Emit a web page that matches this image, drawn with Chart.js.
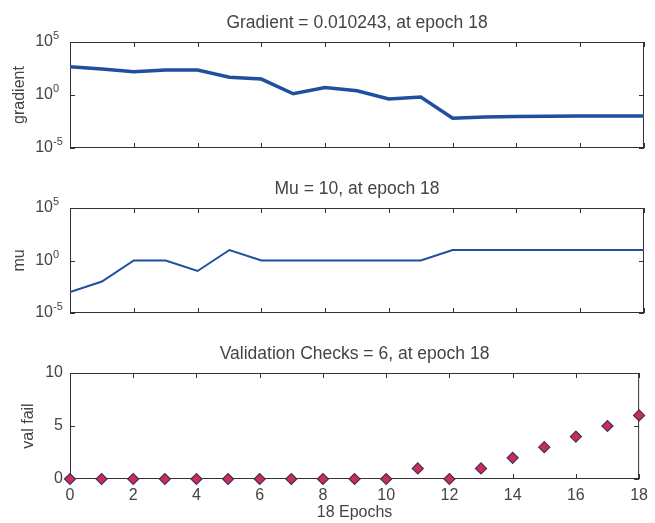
<!DOCTYPE html>
<html lang="en">
<head>
  <meta charset="UTF-8" />
  <title>Training State</title>
  <script src="https://cdn.jsdelivr.net/npm/chart.js"></script>
  <style>
    body {
      margin: 0;
      background: #fff;
      width: 655px;
      height: 523px;
      overflow: hidden;
      position: relative;
    }

    .panel {
      position: absolute;
      left: 0;
      width: 655px;
    }

    #gradPanel { top: 0; height: 165px; }
    #muPanel { top: 165px; height: 165px; }
    #valPanel { top: 330px; height: 193px; }
  </style>
</head>
<body>

  <div class="panel" id="gradPanel"><canvas id="gradChart"></canvas></div>
  <div class="panel" id="muPanel"><canvas id="muChart"></canvas></div>
  <div class="panel" id="valPanel"><canvas id="valChart"></canvas></div>

  <script>
    // values
    const epochs = [0, 1, 2, 3, 4, 5, 6, 7, 8, 9, 10, 11, 12, 13, 14, 15, 16, 17, 18];
    const gradient = [470, 280, 160, 230, 230, 47, 32, 1.3, 5.2, 2.5, 0.42, 0.63, 0.0065, 0.0085, 0.0095, 0.0101, 0.0102, 0.0102, 0.010243];
    const mu = [0.001, 0.01, 1, 1, 0.1, 10, 1, 1, 1, 1, 1, 1, 10, 10, 10, 10, 10, 10, 10];
    const valFail = [0, 0, 0, 0, 0, 0, 0, 0, 0, 0, 0, 1, 0, 1, 2, 3, 4, 5, 6];

    const epochTicks = [0, 2, 4, 6, 8, 10, 12, 14, 16, 18];
    const logTicks = [1e-5, 1, 1e5];
    const valTicks = [0, 5, 10];

    const gradTitle = "Gradient = 0.010243, at epoch 18";
    const muTitle = "Mu = 10, at epoch 18";
    const valTitle = "Validation Checks = 6, at epoch 18";

    const textColor = "#444";
    const fontFamily = "'Liberation Sans', Arial, sans-serif";
    const lineBlue = "#1f4f9f";

    // box, inward ticks, title and 10^n labels, the way MATLAB draws its axes
    const matlabFrame = {
      id: "matlabFrame",
      beforeDatasetsDraw(chart, args, opts) {
        const { ctx, chartArea: a, scales: { x, y } } = chart;
        ctx.save();
        ctx.strokeStyle = "#333";
        ctx.lineWidth = 1;
        ctx.strokeRect(a.left + 0.5, a.top + 0.5, a.width - 1, a.height - 1);
        ctx.beginPath();
        epochTicks.forEach(v => {
          const px = Math.round(x.getPixelForValue(v)) + 0.5;
          ctx.moveTo(px, a.top);
          ctx.lineTo(px, a.top + 5);
          ctx.moveTo(px, a.bottom);
          ctx.lineTo(px, a.bottom - 5);
        });
        opts.yTicks.forEach(v => {
          const py = Math.round(y.getPixelForValue(v)) + 0.5;
          ctx.moveTo(a.left, py);
          ctx.lineTo(a.left + 5, py);
          ctx.moveTo(a.right, py);
          ctx.lineTo(a.right - 5, py);
        });
        ctx.stroke();

        ctx.fillStyle = textColor;
        ctx.font = "17.5px " + fontFamily;
        ctx.textAlign = "center";
        ctx.textBaseline = "middle";
        ctx.fillText(opts.title, (a.left + a.right) / 2, a.top - 19);

        if (opts.log) {
          opts.yTicks.forEach(v => {
            const py = y.getPixelForValue(v);
            ctx.font = "16px " + fontFamily;
            ctx.textAlign = "right";
            ctx.textBaseline = "middle";
            ctx.fillText("10", a.left - 17, py);
            ctx.font = "11px " + fontFamily;
            ctx.textAlign = "left";
            ctx.fillText(String(Math.round(Math.log10(v))), a.left - 17, py - 6);
          });
        }
        ctx.restore();
      }
    };

    function makeOptions(cfg) {
      return {
        responsive: true,
        maintainAspectRatio: false,
        animation: false,
        layout: { padding: { left: 0, right: 11, top: cfg.top, bottom: cfg.bottom } },
        plugins: {
          legend: { display: false },
          tooltip: { enabled: false },
          matlabFrame: { title: cfg.title, yTicks: cfg.yTicks, log: cfg.log }
        },
        scales: {
          x: {
            type: "linear",
            min: 0,
            max: 18,
            display: cfg.showX,
            afterBuildTicks: s => { s.ticks = epochTicks.map(v => ({ value: v })); },
            afterFit: s => { s.height = cfg.showX ? 44 : 0; },
            grid: { display: false, drawTicks: false },
            border: { display: false },
            ticks: {
              padding: 7,
              color: textColor,
              font: { family: fontFamily, size: 16 }
            },
            title: {
              display: cfg.showX,
              text: "18 Epochs",
              color: textColor,
              font: { family: fontFamily, size: 16 },
              padding: { top: 0, bottom: 1 }
            }
          },
          y: {
            type: cfg.log ? "logarithmic" : "linear",
            min: cfg.yTicks[0],
            max: cfg.yTicks[cfg.yTicks.length - 1],
            afterBuildTicks: s => { s.ticks = cfg.yTicks.map(v => ({ value: v })); },
            afterFit: s => { s.width = 70; },
            grid: { display: false, drawTicks: false },
            border: { display: false },
            ticks: {
              padding: 7,
              color: textColor,
              font: { family: fontFamily, size: 16 },
              // log labels are drawn by matlabFrame with a raised exponent
              callback: v => cfg.log ? "" : String(v)
            },
            title: {
              display: true,
              text: cfg.yLabel,
              color: textColor,
              font: { family: fontFamily, size: 16 },
              padding: { top: cfg.log ? 10 : 19, bottom: 0 }
            }
          }
        }
      };
    }

    new Chart(document.getElementById("gradChart"), {
      type: "line",
      data: {
        datasets: [{
          data: epochs.map((e, i) => ({ x: e, y: gradient[i] })),
          borderColor: lineBlue,
          borderWidth: 3.5,
          pointRadius: 0,
          tension: 0
        }]
      },
      options: makeOptions({ title: gradTitle, yLabel: "gradient", log: true, yTicks: logTicks, top: 42, bottom: 17, showX: false }),
      plugins: [matlabFrame]
    });

    new Chart(document.getElementById("muChart"), {
      type: "line",
      data: {
        datasets: [{
          data: epochs.map((e, i) => ({ x: e, y: mu[i] })),
          borderColor: lineBlue,
          borderWidth: 2,
          pointRadius: 0,
          tension: 0
        }]
      },
      options: makeOptions({ title: muTitle, yLabel: "mu", log: true, yTicks: logTicks, top: 43, bottom: 17, showX: false }),
      plugins: [matlabFrame]
    });

    new Chart(document.getElementById("valChart"), {
      type: "line",
      data: {
        datasets: [{
          data: epochs.map((e, i) => ({ x: e, y: valFail[i] })),
          showLine: false,
          clip: false,
          pointStyle: "rectRot",
          pointRadius: 5.5,
          pointBackgroundColor: "#c8304f",
          pointBorderColor: "#4b2a6b",
          pointBorderWidth: 1.2
        }]
      },
      options: makeOptions({ title: valTitle, yLabel: "val fail", log: false, yTicks: valTicks, top: 43, bottom: 0, showX: true }),
      plugins: [matlabFrame]
    });
  </script>

</body>
</html>
